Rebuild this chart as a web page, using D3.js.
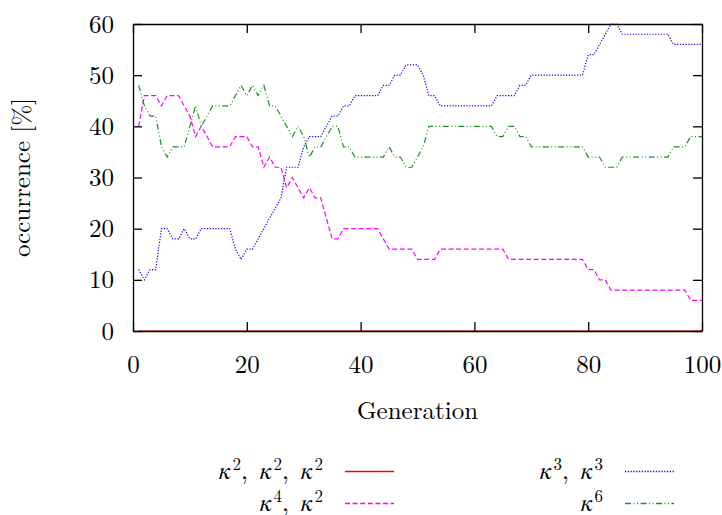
<!DOCTYPE html>
<html>
<head>
<meta charset="utf-8">
<script src="https://cdn.jsdelivr.net/npm/d3@7"></script>
<style>
  html, body { margin: 0; padding: 0; background: #fff; }
  svg { display: block; }
</style>
</head>
<body>
<svg id="chart" width="722" height="515"></svg>
<script>
// Occurrence of each decomposition per generation (generations 1..100)
const generations = d3.range(1, 101);

const k2k2k2 = [
  0,0,0,0,0,0,0,0,0,0, 0,0,0,0,0,0,0,0,0,0,
  0,0,0,0,0,0,0,0,0,0, 0,0,0,0,0,0,0,0,0,0,
  0,0,0,0,0,0,0,0,0,0, 0,0,0,0,0,0,0,0,0,0,
  0,0,0,0,0,0,0,0,0,0, 0,0,0,0,0,0,0,0,0,0,
  0,0,0,0,0,0,0,0,0,0, 0,0,0,0,0,0,0,0,0,0
];

const k4k2 = [
  40,46,46,46,44,46,46,46,44,42, 38,40,38,36,36,36,36,38,38,38,
  36,36,32,34,32,32,28,30,28,26, 28,26,26,22,18,18,20,20,20,20,
  20,20,20,18,16,16,16,16,16,14, 14,14,14,16,16,16,16,16,16,16,
  16,16,16,16,16,14,14,14,14,14, 14,14,14,14,14,14,14,14,14,12,
  12,10,10,8,8,8,8,8,8,8, 8,8,8,8,8,8,8,6,6,6
];

const k3k3 = [
  12,10,12,12,20,20,18,18,20,18, 18,20,20,20,20,20,20,16,14,16,
  16,18,20,22,24,26,32,32,32,36, 38,38,38,40,42,42,44,44,46,46,
  46,46,46,48,48,50,50,52,52,52, 50,46,46,44,44,44,44,44,44,44,
  44,44,44,46,46,46,46,48,48,50, 50,50,50,50,50,50,50,50,50,54,
  54,56,58,60,60,58,58,58,58,58, 58,58,58,58,56,56,56,56,56,56
];

const k6 = [
  48,44,42,42,36,34,36,36,36,40, 44,40,42,44,44,44,44,46,48,46,
  48,46,48,44,44,42,40,38,40,38, 34,36,36,38,40,40,36,36,34,34,
  34,34,34,34,36,34,34,32,32,34, 36,40,40,40,40,40,40,40,40,40,
  40,40,40,38,38,40,40,38,38,36, 36,36,36,36,36,36,36,36,36,34,
  34,34,32,32,32,34,34,34,34,34, 34,34,34,34,36,36,36,38,38,38
];

const xTicks = [0, 20, 40, 60, 80, 100];
const yTicks = [0, 10, 20, 30, 40, 50, 60];

// Legend labels: each part is [base symbol, superscript]
const legendLabels = [
  [["κ", "2"], ["κ", "2"], ["κ", "2"]],
  [["κ", "3"], ["κ", "3"]],
  [["κ", "4"], ["κ", "2"]],
  [["κ", "6"]]
];

const FONT = "'Latin Modern Roman'";
const GREEK = "'FreeSerif'";
const fontSize = 25;

const svg = d3.select("#chart");
const margin = { left: 133, right: 20, top: 24, bottom: 184 };
const W = 722, H = 515;

const x = d3.scaleLinear().domain([0, 100]).range([margin.left, W - margin.right]);
const y = d3.scaleLinear().domain([0, 60]).range([H - margin.bottom, margin.top]);

const seriesDefs = [
  { values: k2k2k2, color: "#ff0000", dash: "none" },
  { values: k3k3,   color: "#0000ff", dash: "1.2,1.6" },
  { values: k4k2,   color: "#ff00ff", dash: "5,2.6" },
  { values: k6,     color: "#1f8f1f", dash: "6,2.5,1,2.5,1,2.5" }
];

const line = d3.line()
  .x((d, i) => x(generations[i]))
  .y(d => y(d));

const lines = svg.append("g").attr("class", "series");
seriesDefs.forEach(s => {
  lines.append("path")
    .datum(s.values)
    .style("fill", "none")
    .style("stroke", s.color)
    .style("stroke-width", 1.2)
    .style("stroke-dasharray", s.dash)
    .attr("d", line);
});

// Axes: ticks point inward on all four sides
const gB = svg.append("g")
  .attr("transform", `translate(0,${y(0)})`)
  .call(d3.axisBottom(x).tickValues(xTicks).tickSizeInner(-9).tickSizeOuter(0).tickPadding(24));
const gT = svg.append("g")
  .attr("transform", `translate(0,${y(60)})`)
  .call(d3.axisTop(x).tickValues(xTicks).tickSizeInner(-9).tickSizeOuter(0).tickFormat(""));
const gL = svg.append("g")
  .attr("transform", `translate(${x(0)},0)`)
  .call(d3.axisLeft(y).tickValues(yTicks).tickSizeInner(-9).tickSizeOuter(0).tickPadding(19));
const gR = svg.append("g")
  .attr("transform", `translate(${x(100)},0)`)
  .call(d3.axisRight(y).tickValues(yTicks).tickSizeInner(-9).tickSizeOuter(0).tickFormat(""));

[gB, gT, gL, gR].forEach(g => {
  g.attr("font-family", null).attr("font-size", null);
  g.select(".domain").style("stroke", "#000").style("stroke-width", 1.3);
  g.selectAll(".tick line").style("stroke", "#000").style("stroke-width", 1.3);
  g.selectAll("text")
    .style("font-family", FONT)
    .style("font-size", fontSize + "px")
    .style("fill", "#000");
});

// Axis titles
svg.append("text")
  .attr("x", (x(0) + x(100)) / 2)
  .attr("y", 419)
  .attr("text-anchor", "middle")
  .style("font-family", FONT)
  .style("font-size", fontSize + "px")
  .text("Generation");

svg.append("text")
  .attr("transform", `translate(30,${(y(0) + y(60)) / 2}) rotate(-90)`)
  .attr("text-anchor", "middle")
  .style("font-family", FONT)
  .style("font-size", fontSize + "px")
  .text("occurrence [%]");

// Legend: two columns, two rows
const legendPos = [
  { tx: 323, lx: 345, ly: 471.5 },
  { tx: 603, lx: 625, ly: 471.5 },
  { tx: 323, lx: 345, ly: 503.5 },
  { tx: 603, lx: 625, ly: 503.5 }
];
const legendSeries = [seriesDefs[0], seriesDefs[1], seriesDefs[2], seriesDefs[3]];

const legend = svg.append("g").attr("class", "legend");
legendLabels.forEach((parts, i) => {
  const p = legendPos[i];
  const s = legendSeries[i];
  const t = legend.append("text")
    .attr("x", p.tx)
    .attr("y", p.ly + 7)
    .attr("text-anchor", "end")
    .style("font-family", FONT)
    .style("font-size", fontSize + "px");
  parts.forEach((part, j) => {
    if (j > 0) t.append("tspan").attr("dy", 9).text(", ");
    t.append("tspan")
      .style("font-family", GREEK)
      .style("font-style", "italic")
      .attr("dx", j > 0 ? 3.5 : null)
      .text(part[0]);
    t.append("tspan").style("font-size", "17px").attr("dx", 1).attr("dy", -9).text(part[1]);
  });
  legend.append("path")
    .attr("d", d3.line()([[p.lx, p.ly], [p.lx + 49, p.ly]]))
    .style("fill", "none")
    .style("stroke", s.color)
    .style("stroke-width", 1.3)
    .style("stroke-dasharray", s.dash);
});
</script>
</body>
</html>
